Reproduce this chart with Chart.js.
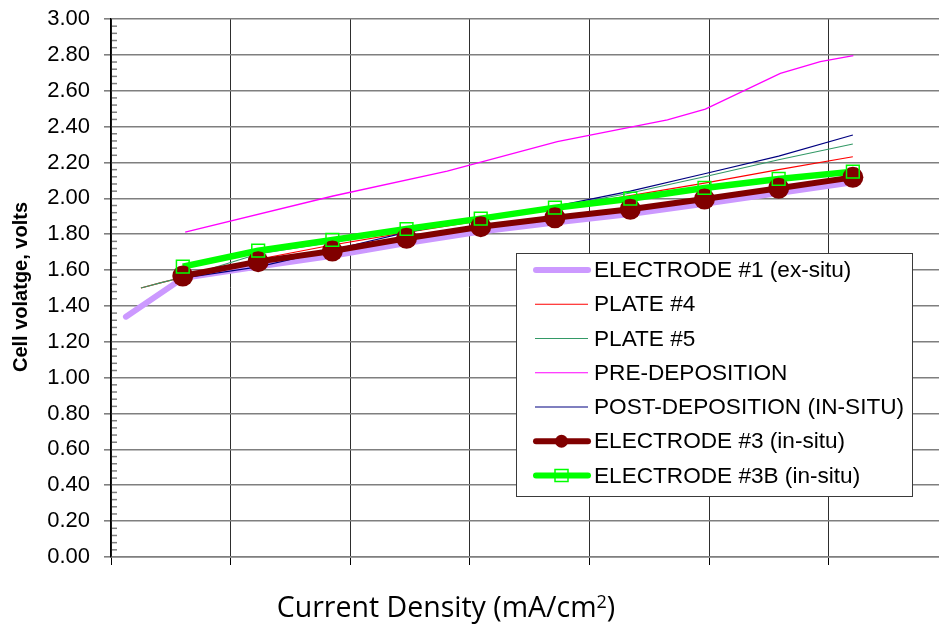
<!DOCTYPE html>
<html><head><meta charset="utf-8">
<script src="https://cdn.jsdelivr.net/npm/chart.js@4.4.1/dist/chart.umd.min.js"></script>
<style>html,body{margin:0;padding:0;background:#fff;overflow:hidden}#wrap{width:939px;height:625px;position:relative}</style>
</head><body><div id="wrap"><canvas id="c" width="939" height="625"></canvas></div>
<script>
// ---- data (x in gridline units of the unlabeled current-density axis) ----
const seriesNames = ['ELECTRODE #1 (ex-situ)','PLATE #4','PLATE #5','PRE-DEPOSITION','POST-DEPOSITION (IN-SITU)','ELECTRODE #3 (in-situ)','ELECTRODE #3B (in-situ)'];
const yTickValues = [0,0.2,0.4,0.6,0.8,1.0,1.2,1.4,1.6,1.8,2.0,2.2,2.4,2.6,2.8,3.0];

const xMain = [0.60,1.23,1.85,2.47,3.09,3.71,4.34,4.96,5.58,6.20];

const xElectrode1 = [0.125,0.60,1.23,1.85,2.47,3.09,3.71,4.34,4.96,5.58,6.20];
const yElectrode1 = [1.34,1.555,1.62,1.68,1.75,1.815,1.865,1.912,1.97,2.03,2.09];

const xPlate = [0.25,0.42,0.60,1.23,1.85,2.47,3.09,3.71,4.34,4.96,5.58,6.20];
const yPlate4 = [1.50,1.53,1.56,1.66,1.74,1.81,1.875,1.945,2.015,2.085,2.16,2.232];
const yPlate5 = [1.50,1.53,1.56,1.69,1.755,1.82,1.885,1.95,2.03,2.12,2.215,2.303];

const xPreDep = [0.62,1.856,2.81,3.73,4.65,4.967,5.594,5.928,6.204];
const yPreDep = [1.811,2.013,2.152,2.316,2.437,2.497,2.697,2.762,2.796];

const yPostDep = [1.555,1.618,1.712,1.81,1.888,1.955,2.04,2.137,2.235,2.353];

const yElectrode3 = [1.567,1.647,1.706,1.777,1.842,1.892,1.939,1.996,2.056,2.117];
const yElectrode3B = [1.619,1.708,1.768,1.829,1.887,1.948,1.998,2.058,2.108,2.149];

const FAMILY = '"Liberation Sans", Arial, sans-serif';
function pts(xs, ys){ return xs.map((x,i)=>({x:x, y:ys[i]})); }

const datasets = [
  {label:seriesNames[0], data:pts(xElectrode1,yElectrode1), borderColor:'#CC99FF', borderWidth:6, borderCapStyle:'round', borderJoinStyle:'round', pointRadius:0, order:10, lg:{w:6,cap:'round'}},
  {label:seriesNames[1], data:pts(xPlate,yPlate4), borderColor:'#FF0000', borderWidth:1.1, pointRadius:0, order:9, lg:{w:1.2,cap:'butt'}},
  {label:seriesNames[2], data:pts(xPlate,yPlate5), borderColor:'#339966', borderWidth:1.1, pointRadius:0, order:8, lg:{w:1.2,cap:'butt'}},
  {label:seriesNames[3], data:pts(xPreDep,yPreDep), borderColor:'#FF00FF', borderWidth:1.3, pointRadius:0, order:7, lg:{w:1.2,cap:'butt'}},
  {label:seriesNames[4], data:pts(xMain,yPostDep), borderColor:'#000080', borderWidth:1.2, pointRadius:0, order:6, lg:{w:1.2,cap:'butt'}},
  {label:seriesNames[5], data:pts(xMain,yElectrode3), borderColor:'#800000', borderWidth:6, borderJoinStyle:'round', pointRadius:0, order:5, lg:{w:6,cap:'round',marker:'circle'}},
  {label:seriesNames[6], data:pts(xMain,yElectrode3B), borderColor:'#00FF00', borderWidth:6.5, borderJoinStyle:'round', pointRadius:0, order:4, lg:{w:6,cap:'round',marker:'rect'}},
  {label:'m3', data:pts(xMain,yElectrode3), showLine:false, pointRadius:10.5, pointBackgroundColor:'#800000', pointBorderColor:'#800000', pointBorderWidth:0, order:3},
  {label:'m3b', data:pts(xMain,yElectrode3B), showLine:false, pointStyle:'rect', pointRadius:9, pointBackgroundColor:'rgba(0,0,0,0)', pointBorderColor:'#00FF00', pointBorderWidth:1.5, order:2}
];

const decor = {
  id:'decor',
  afterDraw(chart){
    const ctx = chart.ctx, ys = chart.scales.y, a = chart.chartArea;
    ctx.save();
    // minor ticks on y axis
    ctx.strokeStyle = '#808080'; ctx.lineWidth = 1.5;
    for (let i=0;i<=75;i++){
      if (i%5===0) continue;
      const py = ys.getPixelForValue(i*0.04);
      ctx.beginPath(); ctx.moveTo(a.left+1, py); ctx.lineTo(a.left+6, py); ctx.stroke();
    }
    // y title
    ctx.save();
    ctx.translate(27, 287); ctx.rotate(-Math.PI/2);
    ctx.fillStyle = '#000'; ctx.font = 'bold 20px ' + FAMILY;
    ctx.textAlign = 'center'; ctx.textBaseline = 'alphabetic';
    ctx.fillText('Cell volatge, volts', 0, 0);
    ctx.restore();
    // x title with superscript
    const main = 'Current Density (mA/cm', sup = '2', end = ')';
    const f1 = '28.5px "Open Sans", sans-serif', f2 = '18px "Open Sans", sans-serif';
    ctx.font = f1; const w1 = ctx.measureText(main).width, w3 = ctx.measureText(end).width;
    ctx.font = f2; const w2 = ctx.measureText(sup).width;
    let x0 = 446 - (w1+w2+w3)/2; const base = 617;
    ctx.fillStyle = '#000'; ctx.textAlign='left'; ctx.textBaseline='alphabetic';
    ctx.font = f1; ctx.fillText(main, x0, base);
    ctx.font = f2; ctx.fillText(sup, x0+w1, base-9);
    ctx.font = f1; ctx.fillText(end, x0+w1+w2, base);
    // legend
    const bx=516.5, by=253.5, bw=396, bh=243;
    ctx.fillStyle='#fff'; ctx.fillRect(bx,by,bw,bh);
    ctx.strokeStyle='#3a3a3a'; ctx.lineWidth=1; ctx.strokeRect(bx,by,bw,bh);
    const items = chart.data.datasets.filter(d=>d.lg);
    items.forEach((d,i)=>{
      const cy = 270 + i*34.25;
      ctx.strokeStyle = d.borderColor; ctx.lineWidth = d.lg.w; ctx.lineCap = d.lg.cap;
      const x1 = d.lg.cap==='round' ? 536 : 535, x2 = 588;
      ctx.beginPath(); ctx.moveTo(x1, cy); ctx.lineTo(x2, cy); ctx.stroke();
      ctx.lineCap='butt';
      if (d.lg.marker==='circle'){ ctx.fillStyle=d.borderColor; ctx.beginPath(); ctx.arc(561.5, cy, 6.5, 0, Math.PI*2); ctx.fill(); }
      if (d.lg.marker==='rect'){ ctx.strokeStyle=d.borderColor; ctx.lineWidth=1.5; ctx.strokeRect(555, cy-6, 13, 12); }
      ctx.fillStyle='#000'; ctx.font='22.6px '+FAMILY; ctx.textAlign='left'; ctx.textBaseline='middle';
      ctx.fillText(d.label, 594, cy+1);
    });
    ctx.restore();
  }
};

new Chart(document.getElementById('c'), {
  type:'line',
  data:{datasets:datasets},
  plugins:[decor],
  options:{
    responsive:false, animation:false, devicePixelRatio:1,
    layout:{autoPadding:false, padding:{top:19,right:0,bottom:0,left:0}},
    plugins:{legend:{display:false}, tooltip:{enabled:false}},
    elements:{line:{tension:0}},
    scales:{
      x:{type:'linear', min:0, max:6.92,
        ticks:{stepSize:1, display:false, includeBounds:false},
        grid:{color:'#2e2e2e', lineWidth:1, tickLength:8, tickColor:'#000'},
        border:{display:true, color:'#7f7f7f', width:1.6},
        afterFit(s){ s.height = 68; s.paddingLeft = 0; s.paddingRight = 0; }},
      y:{type:'linear', min:0, max:3,
        afterBuildTicks(s){ s.ticks = yTickValues.map(v=>({value:v})); },
        ticks:{padding:14, color:'#000', font:{family:FAMILY, size:22}, callback:v=>Number(v).toFixed(2)},
        grid:{color:'#7f7f7f', lineWidth:1.6, tickLength:7},
        border:{color:'#000', width:1.5},
        afterFit(s){ s.width = 111; s.paddingTop = 0; s.paddingBottom = 0; }}
    }
  }
});
</script></body></html>
